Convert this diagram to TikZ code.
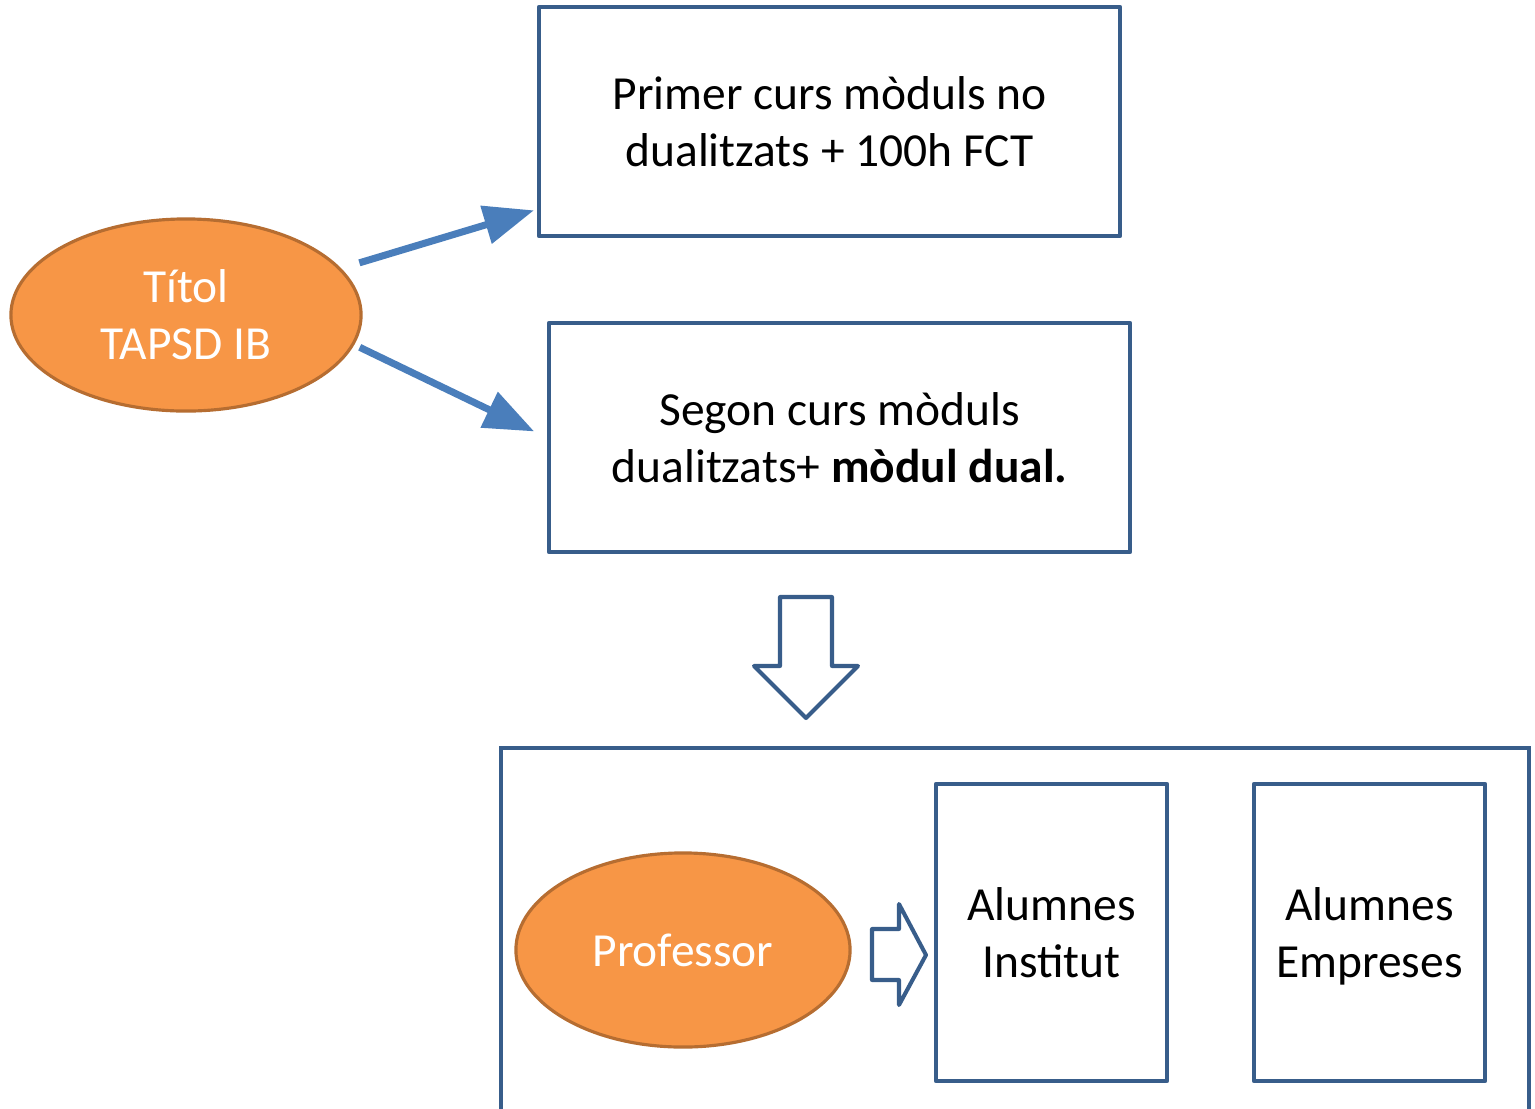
\documentclass[tikz,border=0pt]{standalone}
\usepackage{fontspec}
\setmainfont{Carlito}
\usetikzlibrary{arrows.meta,shapes.geometric}
\definecolor{boxblue}{RGB}{56,93,138}
\definecolor{arrowblue}{RGB}{74,126,187}
\definecolor{orangefill}{RGB}{247,150,70}
\definecolor{orangeline}{RGB}{182,109,49}
\newcommand{\sensecua}[1]{\raisebox{0pt}[\height][0pt]{#1}}
\tikzset{
  txt/.style={align=center, font=\fontsize{13.5}{16.2}\selectfont},
  caixa/.style={txt, draw=boxblue, line width=1.15pt, inner sep=0pt, line join=round},
  bola/.style={txt, ellipse, draw=orangeline, fill=orangefill, text=white, line width=0.9pt, inner sep=0pt},
  fletxa/.style={draw=arrowblue, line width=2pt, -{Triangle[length=0.5cm,width=0.38cm]}},
  bloc/.style={draw=boxblue, fill=white, line width=1.15pt, line join=round}
}
\begin{document}
\begin{tikzpicture}[x=0.01cm, y=-0.01cm]
\useasboundingbox (0,0) rectangle (1535,1108);
\node[bola, minimum width=3.5cm, minimum height=1.92cm] (titol) at (186,315) {Títol\\TAPSD IB};
\node[caixa, minimum width=5.81cm, minimum height=2.29cm] (primer) at (829.5,121.5) {Primer curs mòduls no\\dualitzats + 100h FCT};
\node[caixa, minimum width=5.81cm, minimum height=2.29cm] (segon) at (839.5,437.5) {Segon curs mòduls\\dualitzats+ \textbf{mòdul dual.}};
\draw[fletxa, shorten <=0.19cm, shorten >=0.03cm] (titol) -- (primer);
\draw[fletxa, shorten <=0.06cm, shorten >=0.14cm] (titol.-10) -- (segon.west);
\draw[bloc] (780,597) -- (832,597) -- (832,666) -- (858,666) -- (806,718) -- (754,666) -- (780,666) -- cycle;
\draw[draw=boxblue, line width=1.15pt] (501,1120) -- (501,748) -- (1529,748) -- (1529,1120);
\node[bola, minimum width=3.34cm, minimum height=1.94cm] (prof) at (683,950) {Professor};
\draw[bloc] (872,929) -- (899,929) -- (899,904) -- (926,955) -- (899,1005) -- (899,980) -- (872,980) -- cycle;
\node[caixa, minimum width=2.31cm, minimum height=2.97cm] (institut) at (1051.5,932.5) {Alumnes\\Institut};
\node[caixa, minimum width=2.31cm, minimum height=2.97cm] (empreses) at (1369.5,932.5) {Alumnes\\\sensecua{Empreses}};
\end{tikzpicture}
\end{document}
